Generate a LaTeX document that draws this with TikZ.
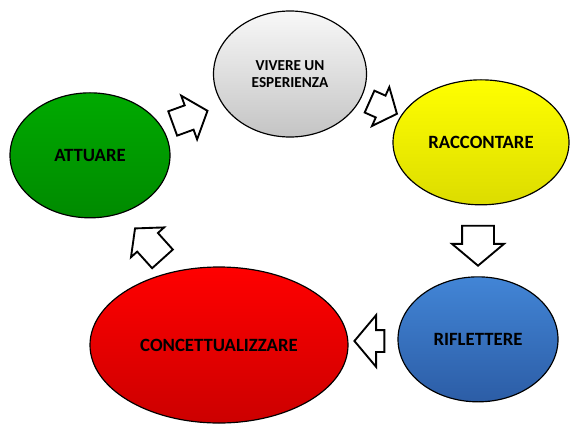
\documentclass[tikz,border=0pt]{standalone}
\usepackage{fontspec}
\setmainfont{Carlito}
\usetikzlibrary{shapes.geometric,shapes.arrows,positioning}
\usepackage{xcolor}
\definecolor{grayT}{HTML}{F8F8F8}
\definecolor{grayB}{HTML}{C4C4C4}
\definecolor{yelT}{HTML}{FFFF00}
\definecolor{yelB}{HTML}{DCDC00}
\definecolor{grnT}{HTML}{00AA00}
\definecolor{grnB}{HTML}{008A00}
\definecolor{redT}{HTML}{FF0000}
\definecolor{redB}{HTML}{CC0000}
\definecolor{bluT}{HTML}{4285D6}
\definecolor{bluB}{HTML}{2C5DA6}
\tikzset{
  phase/.style={draw,ellipse,line width=1pt,align=center,inner sep=0pt,
    font=\bfseries\fontsize{16}{17}\selectfont},
  flow/.style={draw,single arrow,fill=white,line width=1.6pt,inner xsep=0pt,
    single arrow tip angle=100}
}
\begin{document}
\begin{tikzpicture}
\useasboundingbox (0,0) rectangle (17.13,12.72);
% le fasi del ciclo
\node[phase,top color=grayT,bottom color=grayB,minimum width=4.59cm,minimum height=3.78cm,
  font=\bfseries\fontsize{13}{15}\selectfont] (vivere) at (8.70,10.50) {VIVERE UN\\ESPERIENZA};
\node[phase,top color=yelT,bottom color=yelB,minimum width=5.28cm,minimum height=3.75cm] (raccontare) at (14.43,8.45) {RACCONTARE};
\node[phase,top color=bluT,bottom color=bluB,minimum width=4.8cm,minimum height=3.75cm] (riflettere) at (14.34,2.54) {RIFLETTERE};
\node[phase,top color=redT,bottom color=redB,minimum width=7.74cm,minimum height=4.68cm] (concett) at (6.57,2.37) {CONCETTUALIZZARE};
\node[phase,top color=grnT,bottom color=grnB,minimum width=4.8cm,minimum height=3.75cm] (attuare) at (2.70,8.06) {ATTUARE};
% frecce
\node[flow,rotate=20,minimum height=1.11cm,inner ysep=0.36cm,single arrow head extend=0.31cm] (f1) at (5.55,9.15) {};
\node[flow,rotate=-24,minimum height=0.9cm,inner ysep=0.33cm,single arrow head extend=0.28cm] (f2) at (11.36,9.55) {};
\node[flow,rotate=-90,minimum height=1.2cm,inner ysep=0.45cm,single arrow head extend=0.3cm] (f3) at (14.34,5.55) {};
\node[flow,rotate=180,minimum height=0.9cm,inner ysep=0.3cm,single arrow head extend=0.45cm] (f4) at (11.22,2.49) {};
\node[flow,rotate=132,minimum height=1.23cm,inner ysep=0.39cm,single arrow head extend=0.25cm] (f5) at (4.58,5.28) {};
\end{tikzpicture}
\end{document}
